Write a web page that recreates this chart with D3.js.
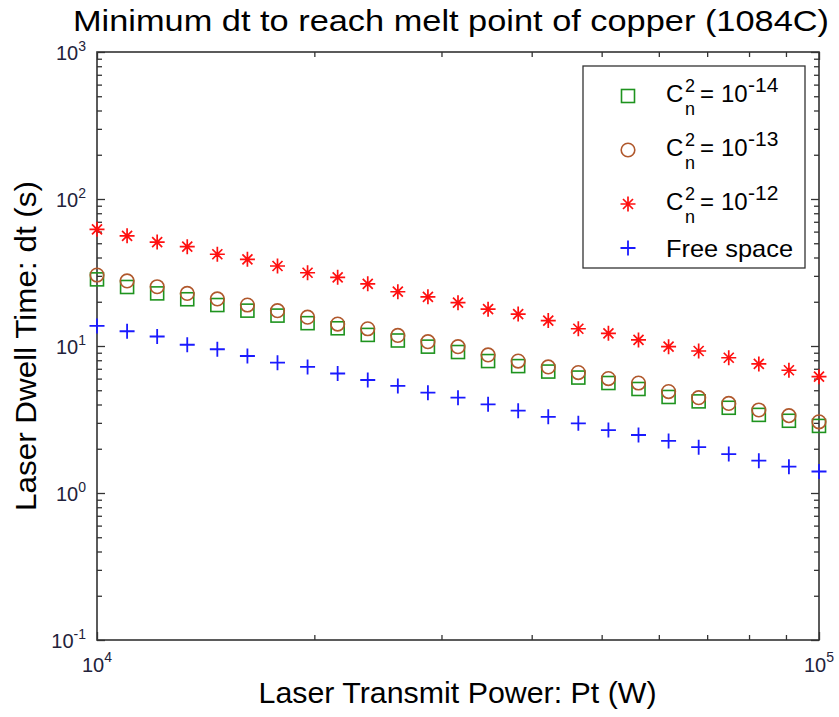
<!DOCTYPE html>
<html>
<head>
<meta charset="utf-8">
<script src="https://cdn.jsdelivr.net/npm/d3@7"></script>
<style>
  body { margin: 0; background: #fff; }
  svg { display: block; font-family: "Liberation Sans", Arial, Helvetica, sans-serif; }
</style>
</head>
<body>
<svg id="chart" width="839" height="717"></svg>
<script>
// Laser transmit power samples (W)
const power = [10000, 11007, 12115, 13335, 14678, 16156, 17783, 19573, 21544, 23714,
  26102, 28730, 31623, 34807, 38312, 42170, 46416, 51090, 56234, 61897,
  68129, 74989, 82540, 90852, 100000];

// Minimum dwell time (s) for each turbulence strength
const dtCn14 = [28.4, 25.2, 22.8, 20.8, 19.0, 17.4, 16.1, 14.3, 13.2, 11.9,
  10.9, 9.9, 9.1, 7.9, 7.3, 6.7, 6.1, 5.6, 5.1, 4.5,
  4.2, 3.8, 3.4, 3.1, 2.86];
const dtCn13 = [30.4, 27.7, 25.3, 22.8, 20.9, 19.0, 17.4, 15.7, 14.1, 13.1,
  11.8, 10.7, 9.9, 8.7, 7.9, 7.2, 6.6, 6.0, 5.6, 4.9,
  4.45, 4.07, 3.67, 3.36, 3.05];
const dtCn12 = [62.2, 56.2, 50.9, 47.4, 42.1, 38.9, 35.0, 31.5, 29.3, 26.5,
  23.4, 21.6, 19.7, 17.8, 16.5, 14.9, 13.1, 12.2, 11.0, 9.9,
  9.25, 8.32, 7.55, 6.84, 6.18];
const dtFree = [13.7, 12.6, 11.6, 10.2, 9.5, 8.55, 7.7, 7.2, 6.5, 5.87,
  5.35, 4.81, 4.45, 4.01, 3.63, 3.30, 2.98, 2.68, 2.48, 2.26,
  2.05, 1.84, 1.66, 1.51, 1.40];

// Axis ticks
const xMajor = [1e4, 1e5];
const xMinor = [2e4, 3e4, 4e4, 5e4, 6e4, 7e4, 8e4, 9e4];
const yMajor = [0.1, 1, 10, 100, 1000];
const yMinor = [];
[0.1, 1, 10, 100].forEach(d => { for (let k = 2; k <= 9; k++) yMinor.push(+(d * k).toPrecision(3)); });

const xExp = ["4", "5"];
const yExp = ["-1", "0", "1", "2", "3"];

const seriesNames = ["-14", "-13", "-12"];

const svg = d3.select("#chart");
const L = 97, R = 819, T = 52, B = 640;

const x = d3.scaleLog().domain([1e4, 1e5]).range([L, R]);
const y = d3.scaleLog().domain([0.1, 1000]).range([B, T]);

const axisColor = "#333";
const textColor = "#22223a";

// Ticks on all four sides, pointing into the plot
function drawTicks(axisFn, scale, values, size, transform) {
  const g = svg.append("g")
    .attr("transform", transform)
    .call(axisFn(scale).tickValues(values).tickSize(-size).tickSizeOuter(0).tickFormat(""));
  g.select(".domain").remove();
  g.selectAll(".tick line").attr("stroke", axisColor).attr("stroke-width", 1.3);
  return g;
}
drawTicks(d3.axisBottom, x, xMajor, 8, `translate(0,${B})`);
drawTicks(d3.axisBottom, x, xMinor, 5, `translate(0,${B})`);
drawTicks(d3.axisTop, x, xMajor, 8, `translate(0,${T})`);
drawTicks(d3.axisTop, x, xMinor, 5, `translate(0,${T})`);
drawTicks(d3.axisLeft, y, yMajor, 8, `translate(${L},0)`);
drawTicks(d3.axisLeft, y, yMinor, 5, `translate(${L},0)`);
drawTicks(d3.axisRight, y, yMajor, 8, `translate(${R},0)`);
drawTicks(d3.axisRight, y, yMinor, 5, `translate(${R},0)`);

// Plot frame
svg.append("rect")
  .attr("x", L).attr("y", T).attr("width", R - L).attr("height", B - T)
  .attr("fill", "none").attr("stroke", axisColor).attr("stroke-width", 1.6);

// Power-of-ten tick labels
xMajor.forEach((v, i) => {
  const t = svg.append("text")
    .attr("x", x(v)).attr("y", B + 32)
    .attr("text-anchor", "middle")
    .attr("fill", textColor)
    .attr("font-size", 20);
  t.append("tspan").text("10");
  t.append("tspan").attr("dy", -10).attr("font-size", 14).text(xExp[i]);
});
yMajor.forEach((v, i) => {
  const t = svg.append("text")
    .attr("x", L - 11).attr("y", y(v) + 8)
    .attr("text-anchor", "end")
    .attr("fill", textColor)
    .attr("font-size", 20);
  t.append("tspan").text("10");
  t.append("tspan").attr("dy", -9).attr("font-size", 14).text(yExp[i]);
});

// Title and axis labels
svg.append("text")
  .attr("x", 451).attr("y", 31)
  .attr("text-anchor", "middle")
  .attr("font-size", 30)
  .attr("textLength", 756).attr("lengthAdjust", "spacingAndGlyphs")
  .attr("fill", "#000")
  .text("Minimum dt to reach melt point of copper (1084C)");

svg.append("text")
  .attr("x", 457.5).attr("y", 703)
  .attr("text-anchor", "middle")
  .attr("font-size", 29)
  .attr("textLength", 398).attr("lengthAdjust", "spacingAndGlyphs")
  .attr("fill", "#000")
  .text("Laser Transmit Power: Pt (W)");

svg.append("text")
  .attr("transform", `translate(36,${(T + B) / 2}) rotate(-90)`)
  .attr("text-anchor", "middle")
  .attr("font-size", 29)
  .attr("textLength", 330).attr("lengthAdjust", "spacingAndGlyphs")
  .attr("fill", "#000")
  .text("Laser Dwell Time: dt (s)");

// Marker shapes
const green = "#1e931e", brown = "#b0582c", red = "#ff1010", blue = "#1a1aff";
const markers = {
  square: (g, c) => g.append("rect").attr("x", -6.5).attr("y", -6.5).attr("width", 13).attr("height", 13)
    .attr("fill", "none").attr("stroke", c).attr("stroke-width", 1.6),
  circle: (g, c) => g.append("circle").attr("r", 6.8)
    .attr("fill", "none").attr("stroke", c).attr("stroke-width", 1.6),
  star: (g, c) => g.append("path").attr("d", "M-7.5,0H7.5M0,-7.5V7.5M-5,-5L5,5M-5,5L5,-5")
    .attr("fill", "none").attr("stroke", c).attr("stroke-width", 1.7),
  plus: (g, c) => g.append("path").attr("d", "M-7.5,0H7.5M0,-7.5V7.5")
    .attr("fill", "none").attr("stroke", c).attr("stroke-width", 1.8)
};

const series = [
  { values: dtCn14, shape: "square", color: green },
  { values: dtCn13, shape: "circle", color: brown },
  { values: dtCn12, shape: "star", color: red },
  { values: dtFree, shape: "plus", color: blue }
];

series.forEach(s => {
  svg.append("g").selectAll("g")
    .data(power.map((p, i) => [p, s.values[i]]))
    .join("g")
    .attr("transform", d => `translate(${x(d[0])},${y(d[1])})`)
    .each(function () { markers[s.shape](d3.select(this), s.color); });
});

// Legend
const lg = svg.append("g");
lg.append("rect")
  .attr("x", 583).attr("y", 66).attr("width", 222).attr("height", 202)
  .attr("fill", "#fff").attr("stroke", axisColor).attr("stroke-width", 1.3);

const legendRows = [96, 150, 204, 248];
series.forEach((s, i) => {
  const g = lg.append("g").attr("transform", `translate(628,${legendRows[i]})`);
  markers[s.shape](g, s.color);
});

seriesNames.forEach((e, i) => {
  const base = legendRows[i] + 6;
  const t = lg.append("text").attr("x", 666).attr("y", base)
    .attr("font-size", 24).attr("fill", "#000");
  t.append("tspan").text("C");
  t.append("tspan").attr("x", 685).attr("dy", -10).attr("font-size", 18).text("2");
  t.append("tspan").attr("x", 685).attr("dy", 23).attr("font-size", 18).text("n");
  t.append("tspan").attr("x", 700).attr("dy", -13).text("=");
  t.append("tspan").attr("x", 721).text("10");
  t.append("tspan").attr("x", 748).attr("dy", -10).attr("font-size", 21).text(e);
});
lg.append("text").attr("x", 666).attr("y", legendRows[3] + 9)
  .attr("font-size", 24).attr("textLength", 127).attr("lengthAdjust", "spacingAndGlyphs")
  .attr("fill", "#000").text("Free space");
</script>
</body>
</html>
